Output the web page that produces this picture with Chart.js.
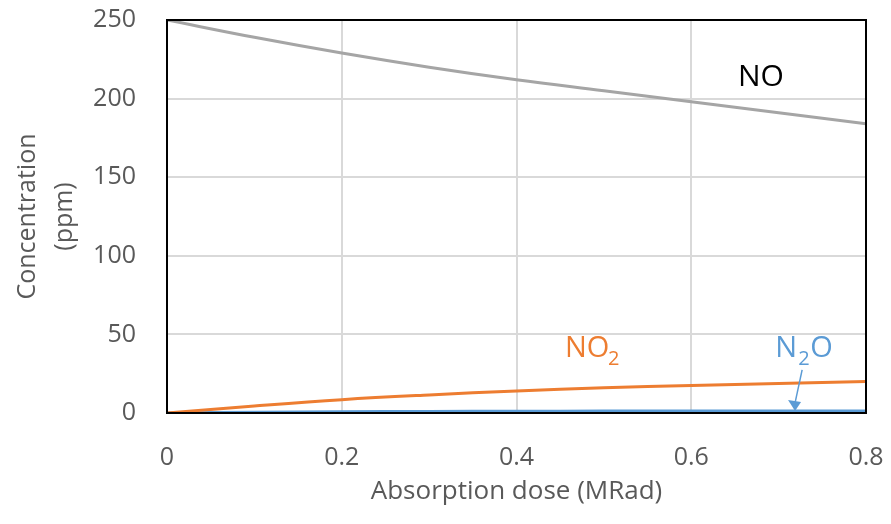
<!DOCTYPE html>
<html>
<head>
<meta charset="utf-8">
<script src="https://cdn.jsdelivr.net/npm/chart.js@4"></script>
<style>
  html, body { margin: 0; padding: 0; background: #fff; }
  #wrap { width: 891px; height: 524px; }
</style>
</head>
<body>
<div id="wrap"><canvas id="chart"></canvas></div>
<script>
const doses = [0, 0.1, 0.2, 0.3, 0.4, 0.5, 0.6, 0.7, 0.8];
const noValues = [250, 239, 229, 220, 212, 205, 198, 191, 184];
const no2Values = [0, 4.5, 8.5, 11.5, 14, 16, 17.5, 18.8, 20];
const n2oValues = [0, 0.5, 0.8, 1.0, 1.1, 1.2, 1.25, 1.3, 1.3];
const yTicks = [0, 50, 100, 150, 200, 250];
const xTicks = [0, 0.2, 0.4, 0.6, 0.8];

const font = "'Open Sans', 'DejaVu Sans', sans-serif";
const tickGrey = '#595959';

function pts(vals) {
    return doses.map((d, i) => ({ x: d, y: vals[i] }));
}

// frame + series labels
const extras = {
    id: 'extras',
    afterDatasetsDraw(chart) {
        const { ctx, chartArea: a, scales: { x, y } } = chart;
        ctx.save();
        ctx.strokeStyle = '#000';
        ctx.lineWidth = 2;
        ctx.strokeRect(a.left, a.top, a.right - a.left, a.bottom - a.top);

        ctx.textAlign = 'left';
        ctx.textBaseline = 'alphabetic';
        ctx.font = '30px ' + font;
        ctx.fillStyle = '#000';
        ctx.fillText('NO', x.getPixelForValue(0.6535), y.getPixelForValue(208));

        ctx.fillStyle = '#ED7D31';
        ctx.font = '29px ' + font;
        const ox = x.getPixelForValue(0.4555);
        ctx.fillText('NO', ox, y.getPixelForValue(35.6));
        ctx.font = '20px ' + font;
        ctx.fillText('2', ox + 43, y.getPixelForValue(30.5));

        const blue = '#5B9BD5';
        ctx.fillStyle = blue;
        ctx.font = '29px ' + font;
        const nx = x.getPixelForValue(0.696);
        ctx.fillText('N', nx, y.getPixelForValue(35.6));
        ctx.font = '20px ' + font;
        ctx.fillText('2', nx + 23, y.getPixelForValue(30.5));
        ctx.font = '29px ' + font;
        ctx.fillText('O', nx + 35, y.getPixelForValue(35.6));

        // arrow
        const x1 = nx + 27, y1 = y.getPixelForValue(27.4);
        const x2 = x.getPixelForValue(0.7188), y2 = y.getPixelForValue(1.3);
        ctx.strokeStyle = blue;
        ctx.lineWidth = 1.5;
        ctx.beginPath();
        ctx.moveTo(x1, y1);
        ctx.lineTo(x2, y2 - 8);
        ctx.stroke();
        ctx.beginPath();
        ctx.moveTo(x2, y2);
        ctx.lineTo(x2 - 7, y2 - 11);
        ctx.lineTo(x2 + 6, y2 - 9);
        ctx.closePath();
        ctx.fill();
        ctx.restore();
    }
};

new Chart(document.getElementById('chart').getContext('2d'), {
    type: 'line',
    data: {
        datasets: [{
            label: 'NO',
            data: pts(noValues),
            borderColor: '#A5A5A5',
            borderWidth: 3,
            pointRadius: 0,
            tension: 0.4
        }, {
            label: 'NO2',
            data: pts(no2Values),
            borderColor: '#ED7D31',
            borderWidth: 3,
            pointRadius: 0,
            tension: 0.4
        }, {
            label: 'N2O',
            data: pts(n2oValues),
            borderColor: '#5B9BD5',
            borderWidth: 3,
            pointRadius: 0,
            tension: 0.4
        }]
    },
    options: {
        responsive: true,
        maintainAspectRatio: false,
        animation: false,
        layout: { padding: { top: 20, right: 25, bottom: 4, left: 0 } },
        plugins: {
            legend: { display: false },
            tooltip: { enabled: false }
        },
        scales: {
            x: {
                type: 'linear',
                min: 0,
                max: 0.8,
                afterBuildTicks(axis) {
                    axis.ticks = xTicks.map(v => ({ value: v }));
                },
                afterFit(axis) {
                    axis.height = 107;
                    axis.paddingLeft = 0;
                    axis.paddingRight = 0;
                },
                grid: { color: '#D9D9D9', lineWidth: 2, drawTicks: false },
                border: { display: false },
                ticks: {
                    color: tickGrey,
                    padding: 30,
                    maxRotation: 0,
                    font: { size: 25, family: font },
                    callback: v => String(v)
                },
                title: {
                    display: true,
                    text: 'Absorption dose (MRad)',
                    color: tickGrey,
                    font: { size: 26, family: font, lineHeight: 1.2 },
                    padding: { top: 0, bottom: 13 }
                }
            },
            y: {
                min: 0,
                max: 250,
                afterBuildTicks(axis) {
                    axis.ticks = yTicks.map(v => ({ value: v }));
                },
                afterFit(axis) {
                    axis.width = 167;
                    axis.paddingTop = 0;
                    axis.paddingBottom = 0;
                },
                grid: { color: '#D9D9D9', lineWidth: 2, drawTicks: false },
                border: { display: false },
                ticks: {
                    color: tickGrey,
                    padding: 31,
                    font: { size: 25, family: font }
                },
                title: {
                    display: true,
                    text: ['Concentration', '(ppm)'],
                    color: tickGrey,
                    font: { size: 25, family: font, lineHeight: 1.45 },
                    padding: { top: 10, bottom: 0 }
                }
            }
        }
    },
    plugins: [extras]
});
</script>
</body>
</html>
